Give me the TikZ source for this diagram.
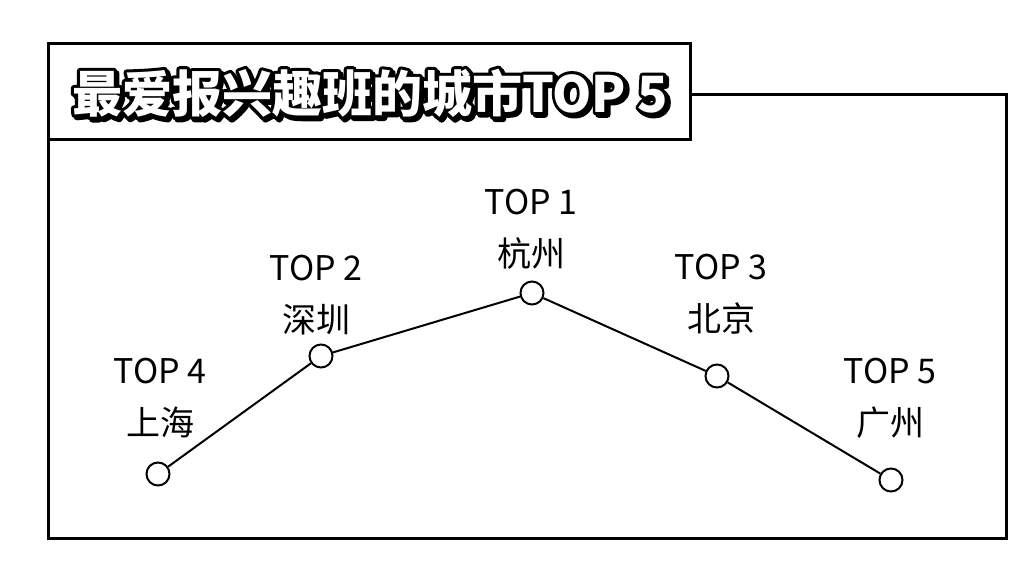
\documentclass[tikz,border=0pt]{standalone}
\usepackage{fontspec}
\setmainfont{Noto Sans CJK SC}
\usetikzlibrary{positioning,calc}
\tikzset{
  frame/.style={line width=1.5pt},
  city/.style={draw, circle, line width=1pt, minimum size=11.5pt, inner sep=0pt, fill=white},
  link/.style={line width=1pt},
  rank/.style={align=center, font=\fontsize{17}{26}\selectfont, inner sep=0pt},
  headline/.style={font=\fontsize{25}{25}\selectfont\bfseries, inner sep=0pt}
}
\newcommand\headtext{最爱报兴趣班的城市TOP 5}
\newcommand\strokedhead{\special{pdf:code q 1 Tr 3.2 w 1 j 0 G}\headtext\special{pdf:code Q}}

\begin{document}
\begin{tikzpicture}[x=0.5pt,y=-0.5pt]
  \useasboundingbox (0,0) rectangle (1034,582);
  % frame and title box
  \coordinate (titleTL) at (48,44);
  \coordinate (titleBR) at (690,140);
  \draw[frame] (690,95) -- (1006,95) -- (1006,539) -- (48,539) -- (48,140);
  \draw[frame] (titleTL) rectangle (titleBR);
  \coordinate (headpos) at (370,93);
  \node[headline, text=black] at ($(headpos)+(1.2pt,-1.2pt)$) {\strokedhead};
  \node[headline, text=black] at (headpos) {\strokedhead};
  \node[headline, text=white] (head) at (headpos) {\headtext};
  % cities
  \node[city] (shanghai) at (158,474) {};
  \node[city] (shenzhen) at (321,356) {};
  \node[city] (hangzhou) at (532,293) {};
  \node[city] (beijing) at (717,376) {};
  \node[city] (guangzhou) at (891,480) {};
  \draw[link] (shanghai) -- (shenzhen);
  \draw[link] (shenzhen) -- (hangzhou);
  \draw[link] (hangzhou) -- (beijing);
  \draw[link] (beijing) -- (guangzhou);
  % labels
  \node[rank] (lshanghai) at (160,398) {TOP 4\\上海};
  \node[rank] (lshenzhen) at (316,295) {TOP 2\\深圳};
  \node[rank] (lhangzhou) at (531,229) {TOP 1\\杭州};
  \node[rank] (lbeijing) at (721,294) {TOP 3\\北京};
  \node[rank] (lguangzhou) at (890,398) {TOP 5\\广州};
\end{tikzpicture}
\end{document}
